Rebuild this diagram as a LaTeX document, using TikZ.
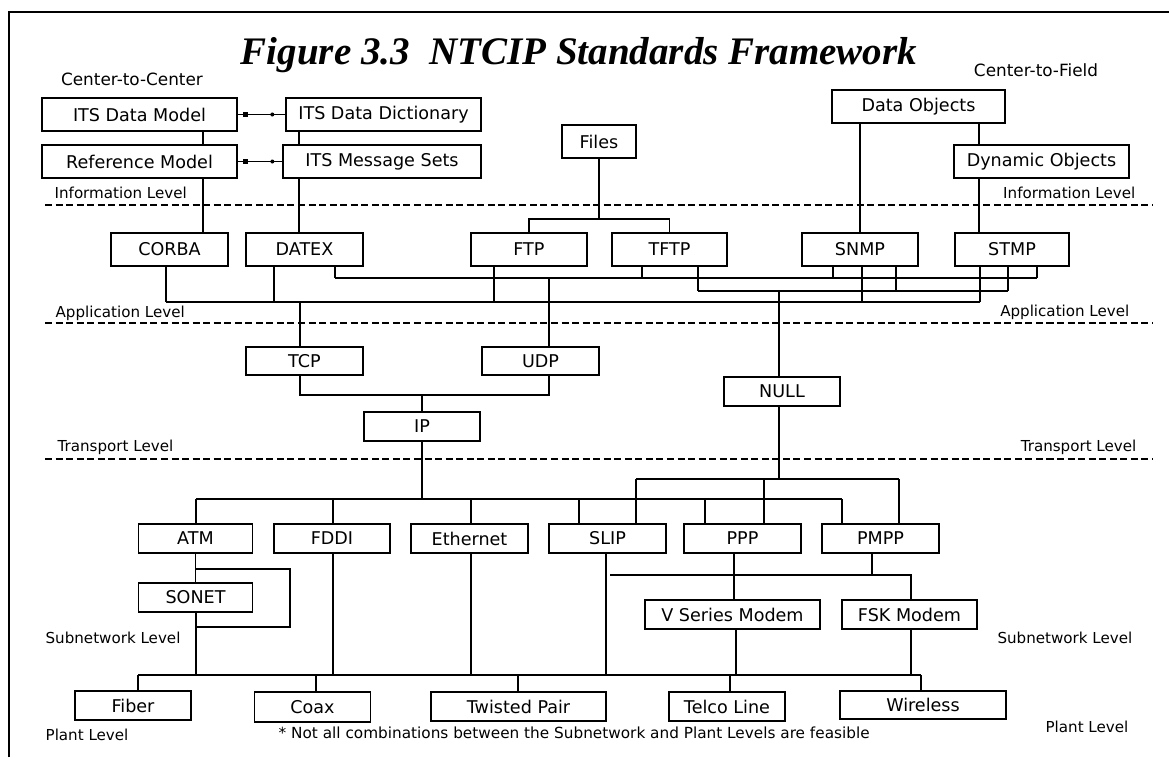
\documentclass[tikz,border=0pt]{standalone}
\usepackage{fontspec}
\setmainfont{DejaVu Sans}
\newfontfamily\titlefont{Liberation Serif}
\usetikzlibrary{calc}
\newlength\pxl
\setlength\pxl{0.02cm}

\begin{document}
\begin{tikzpicture}[x=0.02cm,y=-0.02cm,line width=0.9pt,
    blk/.style={draw,line width=1.1pt,inner sep=0pt,minimum height=29\pxl,
      font=\fontsize{10}{12}\selectfont},
    lvl/.style={font=\fontsize{8.6}{10}\selectfont},
    lvlline/.style={line width=0.8pt,dash pattern=on 4pt off 2pt},
    sqr/.style={fill,inner sep=0pt,minimum size=5\pxl},
    dot/.style={circle,fill,inner sep=0pt,minimum size=4\pxl}]
  \fill[white] (0,0) rectangle (1169,757);
  \useasboundingbox (0,0) rectangle (1169,757);
  \draw[line width=0.8pt] (9,757) -- (9,12) -- (1169,12);

  \node[font=\titlefont\bfseries\itshape\fontsize{22.2}{26}\selectfont,anchor=base] (title) at (579,65)
    {Figure 3.3\ \ NTCIP Standards Framework};
  \node[font=\fontsize{9.6}{11}\selectfont] (c2c) at (132,79) {Center-to-Center};
  \node[font=\fontsize{9.6}{11}\selectfont] (c2f) at (1036,70) {Center-to-Field};

  % information level
  \node[blk,minimum width=195\pxl,minimum height=33\pxl] (itsdm) at (139.5,114.5) {ITS Data Model};
  \node[blk,minimum width=195\pxl,minimum height=33\pxl] (itsdd) at (383.5,114.5) {ITS Data Dictionary};
  \node[blk,minimum width=195\pxl,minimum height=33\pxl] (refm) at (139.5,161.5) {Reference Model};
  \node[blk,minimum width=198\pxl,minimum height=33\pxl] (itsms) at (382,161.5) {ITS Message Sets};
  \node[blk,minimum width=74\pxl,minimum height=33\pxl] (files) at (599,141.5) {Files};
  \node[blk,minimum width=173\pxl,minimum height=33\pxl] (dobj) at (918.5,106.5) {Data Objects};
  \node[blk,minimum width=175\pxl,minimum height=33\pxl] (dynobj) at (1041.5,161.5) {Dynamic Objects};

  % application level
  \node[blk,minimum width=117\pxl,minimum height=33\pxl] (corba) at (169.5,249.5) {CORBA};
  \node[blk,minimum width=117\pxl,minimum height=33\pxl] (datex) at (304.5,249.5) {DATEX};
  \node[blk,minimum width=116\pxl,minimum height=33\pxl] (ftp) at (529,249.5) {FTP};
  \node[blk,minimum width=115\pxl,minimum height=33\pxl] (tftp) at (669.5,249.5) {TFTP};
  \node[blk,minimum width=116\pxl,minimum height=33\pxl] (snmp) at (860,249.5) {SNMP};
  \node[blk,minimum width=114\pxl,minimum height=33\pxl] (stmp) at (1012,249.5) {STMP};

  % transport level
  \node[blk,minimum width=117\pxl,minimum height=28\pxl] (tcp) at (304.5,361) {TCP};
  \node[blk,minimum width=117\pxl,minimum height=28\pxl] (udp) at (540.5,361) {UDP};
  \node[blk,minimum width=116\pxl] (ip) at (422,426.5) {IP};
  \node[blk,minimum width=116\pxl] (null) at (782,391.5) {NULL};

  % subnetwork level
  \node[blk,minimum width=114\pxl] (atm) at (195.5,538.5) {ATM};
  \node[blk,minimum width=116\pxl] (fddi) at (332,538.5) {FDDI};
  \node[blk,minimum width=117\pxl] (eth) at (469.5,538.5) {Ethernet};
  \node[blk,minimum width=117\pxl] (slip) at (607.5,538.5) {SLIP};
  \node[blk,minimum width=117\pxl] (ppp) at (742.5,538.5) {PPP};
  \node[blk,minimum width=117\pxl] (pmpp) at (880.5,538.5) {PMPP};
  \node[blk,minimum width=114\pxl] (sonet) at (195.5,597.5) {SONET};
  \node[blk,minimum width=175\pxl] (vsm) at (732.5,614.5) {V Series Modem};
  \node[blk,minimum width=135\pxl] (fsk) at (909.5,614.5) {FSK Modem};

  % plant level
  \node[blk,minimum width=116\pxl] (fiber) at (133,705.5) {Fiber};
  \node[blk,minimum width=116\pxl,minimum height=30\pxl] (coax) at (312.5,707) {Coax};
  \node[blk,minimum width=175\pxl] (twp) at (518.5,706.5) {Twisted Pair};
  \node[blk,minimum width=116\pxl] (telco) at (727,706.5) {Telco Line};
  \node[blk,minimum width=166\pxl,minimum height=28\pxl] (wireless) at (923,705) {Wireless};

  % level lines and labels
  \foreach \y in {205,323,459}
    \draw[lvlline] (45,\y) -- (1152,\y);
  \node[lvl,anchor=west] (infol) at (48,193) {Information Level};
  \node[lvl,anchor=west] (appl) at (49,313) {Application Level};
  \node[lvl,anchor=west] (tranl) at (51,447) {Transport Level};
  \node[lvl,anchor=west] (subl) at (39,638) {Subnetwork Level};
  \node[lvl,anchor=west] (plantl) at (39,735) {Plant Level};
  \node[lvl,anchor=east] (infor) at (1142,193) {Information Level};
  \node[lvl,anchor=east] (appr) at (1136,312) {Application Level};
  \node[lvl,anchor=east] (tranr) at (1143,447) {Transport Level};
  \node[lvl,anchor=east] (subr) at (1139,638) {Subnetwork Level};
  \node[lvl,anchor=east] (plantr) at (1135,727) {Plant Level};
  \node[lvl,anchor=west,font=\fontsize{8.7}{10}\selectfont] (note) at (272,733)
    {* Not all combinations between the Subnetwork and Plant Levels are feasible};

  % top connections
  \draw (itsdm) -- node[sqr,pos=0.16]{} node[dot,pos=0.73]{} (itsdd);
  \draw (refm) -- node[sqr,pos=0.17]{} node[dot,pos=0.78]{} (itsms);
  \coordinate (cl) at (203,0);
  \coordinate (cr) at (299,0);
  \coordinate (cs) at (979,0);
  \draw (itsdm.south -| cl) -- (refm.north -| cl);
  \draw (refm.south -| cl) -- (corba.north -| cl);
  \draw (itsdd.south -| cr) -- (itsms.north -| cr);
  \draw (itsms.south -| cr) -- (datex.north -| cr);
  \draw (dobj.south -| snmp) -- (snmp.north);
  \draw (dobj.south -| cs) -- (dynobj.north -| cs);
  \draw (dynobj.south -| cs) -- (stmp.north -| cs);
  \coordinate (fb) at (599,219);
  \draw (files) -- (fb);
  \draw (ftp.north) |- (fb) -| (tftp.north);

  % application buses
  \foreach \n/\x in {a1/166,a2/274,a3/300,a4/494,a5/861.7,a6/980}
    \coordinate (\n) at (\x,302);
  \foreach \n/\x in {b1/335,b2/549,b3/642,b4/832.7,b5/1036.7}
    \coordinate (\n) at (\x,278);
  \foreach \n/\x in {c1/698,c2/779,c3/895.7,c4/1008}
    \coordinate (\n) at (\x,291);
  \draw (a1) -- (a6);
  \draw (b1) -- (b5);
  \draw (c1) -- (c4);
  \draw (corba.south -| a1) -- (a1);
  \draw (datex.south -| a2) -- (a2);
  \draw (ftp.south -| a4) -- (a4);
  \draw (snmp.south -| a5) -- (a5);
  \draw (stmp.south -| a6) -- (a6);
  \draw (datex.south -| b1) -- (b1);
  \draw (tftp.south -| b3) -- (b3);
  \draw (snmp.south -| b4) -- (b4);
  \draw (stmp.south -| b5) -- (b5);
  \draw (tftp.south -| c1) -- (c1);
  \draw (snmp.south -| c3) -- (c3);
  \draw (stmp.south -| c4) -- (c4);
  \draw (a3) -- (tcp.north -| a3);
  \draw (b2) -- (udp.north -| b2);
  \draw (c2) -- (null.north -| c2);

  % transport
  \coordinate (t1) at (300,395);
  \coordinate (t2) at (422,395);
  \coordinate (t3) at (549,395);
  \draw (tcp.south -| t1) -- (t1) -- (t3) -- (udp.south -| t3);
  \draw (ip.north) -- (t2);

  % subnetwork buses
  \foreach \n/\x in {d1/196,d2/333,d3/422,d4/471,d5/579,d6/705,d7/842}
    \coordinate (\n) at (\x,499);
  \foreach \n/\x in {e1/636,e2/764,e3/779,e4/899}
    \coordinate (\n) at (\x,479);
  \foreach \n/\x in {f1/610,f2/734,f3/872,f4/911}
    \coordinate (\n) at (\x,575);
  \draw (d1) -- (d7);
  \draw (e1) -- (e4);
  \draw (ip.south) -- (d3);
  \draw (null.south -| e3) -- (e3);
  \draw (d1) -- (atm.north -| d1);
  \draw (d2) -- (fddi.north -| d2);
  \draw (d4) -- (eth.north -| d4);
  \draw (d5) -- (slip.north -| d5);
  \draw (d6) -- (ppp.north -| d6);
  \draw (d7) -- (pmpp.north -| d7);
  \draw (e1) -- (slip.north -| e1);
  \draw (e2) -- (ppp.north -| e2);
  \draw (e4) -- (pmpp.north -| e4);
  \draw (atm) -- (sonet);
  \coordinate (lp1) at (196,569);
  \coordinate (lp2) at (290,627);
  \draw (lp1) -| (lp2) -- (lp2 -| sonet);
  \draw (f1) -- (f4) -- (fsk.north -| f4);
  \draw (ppp.south -| f2) -- (vsm.north -| f2);
  \draw (pmpp.south -| f3) -- (f3);

  % plant bus
  \foreach \n/\x in {g1/138,g2/196,g3/316,g4/333,g5/471,g6/518,g7/606,g8/730,g9/736,g10/911,g11/921}
    \coordinate (\n) at (\x,675);
  \draw (g1) -- (g11);
  \draw (sonet.south -| g2) -- (g2);
  \draw (fddi.south -| g4) -- (g4);
  \draw (eth.south -| g5) -- (g5);
  \draw (slip.south -| g7) -- (g7);
  \draw (vsm.south -| g9) -- (g9);
  \draw (fsk.south -| g10) -- (g10);
  \draw (g1) -- (fiber.north -| g1);
  \draw (g3) -- (coax.north -| g3);
  \draw (g6) -- (twp.north -| g6);
  \draw (g8) -- (telco.north -| g8);
  \draw (g11) -- (wireless.north -| g11);
\end{tikzpicture}
\end{document}
